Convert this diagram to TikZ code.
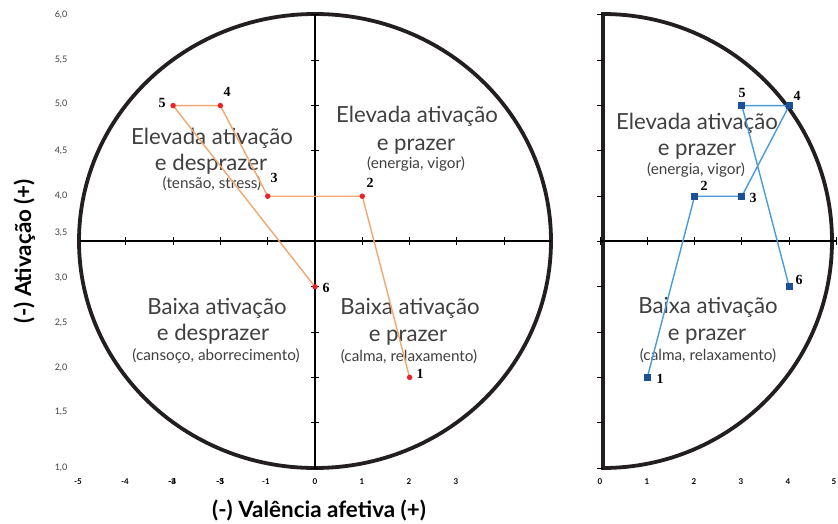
\documentclass[tikz,border=0pt]{standalone}
\usepackage{fontspec}
\setmainfont{Lato}
\newfontfamily\ptfont{Liberation Serif}
\definecolor{txtgray}{HTML}{404040}
\definecolor{frame}{HTML}{231F20}
\definecolor{oline}{HTML}{F4A670}
\definecolor{rdot}{HTML}{E8262A}
\definecolor{bline}{HTML}{4A9BD9}
\definecolor{bsq}{HTML}{1F4E99}
\begin{document}
\begin{tikzpicture}[x=1pt,y=-1pt,
  quad/.style={anchor=base, text=txtgray, font=\fontsize{22.2}{22}\selectfont, inner sep=0pt},
  quadsub/.style={anchor=base, text=txtgray, font=\fontsize{15.3}{15}\selectfont, inner sep=0pt},
  ylab/.style={text=txtgray, font=\fontsize{9}{9}\selectfont, inner sep=0pt},
  xlab/.style={text=black, font=\bfseries\fontsize{8}{8}\selectfont, inner sep=0pt},
  plab/.style={text=black, font=\ptfont\bfseries\fontsize{14}{14}\selectfont, inner sep=0pt},
  axtitle/.style={text=black, font=\bfseries\fontsize{22.4}{22}\selectfont, inner sep=0pt, anchor=base},
  frameline/.style={draw=frame, line width=3.8pt},
  axisline/.style={draw=black, line width=1.2pt},
  tickline/.style={draw=black, line width=1pt},
  orangepath/.style={draw=oline, line width=1.4pt},
  bluepath/.style={draw=bline, line width=1.4pt},
  reddot/.style={circle, fill=rdot, inner sep=0pt, minimum size=5.5pt},
  bluesq/.style={rectangle, fill=bsq, inner sep=0pt, minimum size=7pt}]
\useasboundingbox (0,0) rectangle (838,524);
\fill[white] (0,0) rectangle (838,524);

% ---------- left panel ----------
\draw[frameline] (315,241) ellipse [x radius=236, y radius=227];
\draw[axisline] (80,241) -- (551,241);
\draw[axisline] (315,14) -- (315,468);
\foreach \k in {0,...,10} \draw[tickline] (311,{468-45.3*\k}) -- (319,{468-45.3*\k});
\foreach \v in {-4,-3,-2,-1,1,2,3,4} \draw[tickline] ({315+47.3*\v},237) -- ({315+47.3*\v},245);

% y labels
\node[ylab] (y60) at (61,15) {6,0};
\node[ylab] (y55) at (61,60) {5,5};
\node[ylab] (y50) at (61,104) {5,0};
\node[ylab] (y45) at (61,151) {4,5};
\node[ylab] (y40) at (61,196) {4,0};
\node[ylab] (y35) at (61,233) {3,5};
\node[ylab] (y30) at (61,278) {3,0};
\node[ylab] (y25) at (61,323) {2,5};
\node[ylab] (y20) at (61,368) {2,0};
\node[ylab] (y15) at (61,412) {1,5};
\node[ylab] (y10) at (61,468) {1,0};

% x labels left
\node[xlab] (xm5) at (78,482) {-5};
\node[xlab] (xm4) at (125,482) {-4};
\node[xlab] (xm3a) at (172,482) {-3};
\node[xlab] (xm3b) at (172.5,482) {-4};
\node[xlab] (xm2a) at (220,482) {-3};
\node[xlab] (xm2b) at (220.5,482) {-5};
\node[xlab] (xm1) at (266,482) {-1};
\node[xlab] (x0) at (315,482) {0};
\node[xlab] (x1) at (362,482) {1};
\node[xlab] (x2) at (409,482) {2};
\node[xlab] (x3) at (456,482) {3};

% quadrant texts left
\node[quad] (tl1) at (212,145) {Elevada ativação};
\node[quad] (tl2) at (211,171) {e desprazer};
\node[quadsub] (tl3) at (212,188) {(tensão, stress)};
\node[quad] (tr1) at (417,123) {Elevada ativação};
\node[quad] (tr2) at (416,151) {e prazer};
\node[quadsub] (tr3) at (416,168) {(energia, vigor)};
\node[quad] (bl1) at (217,314) {Baixa ativação};
\node[quad] (bl2) at (213,340) {e desprazer};
\node[quadsub] (bl3) at (216,360) {(cansoço, aborrecimento)};
\node[quad] (br1) at (410,314) {Baixa ativação};
\node[quad] (br2) at (408,341) {e prazer};
\node[quadsub] (br3) at (409,361) {(calma, relaxamento)};

% left data
\coordinate (L1) at (409.6,377.4);
\coordinate (L2) at (362.3,196.2);
\coordinate (L3) at (267.7,196.2);
\coordinate (L4) at (220.4,105.6);
\coordinate (L5) at (173.1,105.6);
\coordinate (L6) at (315,286.8);
\draw[orangepath] (L1) -- (L2) -- (L3) -- (L4) -- (L5) -- (L6);
\foreach \p in {1,...,6} \node[reddot] (dL\p) at (L\p) {};
\node[plab] (nL1) at (420,374) {1};
\node[plab] (nL2) at (370,183) {2};
\node[plab] (nL3) at (274,178) {3};
\node[plab] (nL4) at (227,92) {4};
\node[plab] (nL5) at (162,103) {5};
\node[plab] (nL6) at (326,288) {6};

% axis titles
\node[axtitle] (xt) at (319,517) {(-) Valência afetiva (+)};
\node[axtitle, rotate=90] (yt) at (31,251) {(-) Ativação (+)};

% ---------- right panel ----------
\draw[frameline] (603,14) arc[start angle=-90, end angle=90, x radius=229, y radius=227] -- cycle;
\draw[axisline] (600,241) -- (837,241);
\foreach \k in {0,...,10} \draw[tickline] (597,{468-45.3*\k}) -- (603,{468-45.3*\k});
\foreach \v in {0,1,2,3,4,5} \draw[tickline] ({600+47.3*\v},237) -- ({600+47.3*\v},245);

\node[xlab] (rx0) at (600,482) {0};
\node[xlab] (rx1) at (647,482) {1};
\node[xlab] (rx2) at (694,482) {2};
\node[xlab] (rx3) at (741,482) {3};
\node[xlab] (rx4) at (788,482) {4};
\node[xlab] (rx5) at (834,482) {5};

\node[quad] (rt1) at (697,130) {Elevada ativação};
\node[quad] (rt2) at (697,156) {e prazer};
\node[quadsub] (rt3) at (696,175) {(energia, vigor)};
\node[quad] (rb1) at (708,313) {Baixa ativação};
\node[quad] (rb2) at (707,340) {e prazer};
\node[quadsub] (rb3) at (708,360) {(calma, relaxamento)};

\coordinate (R1) at (647.3,377.4);
\coordinate (R2) at (694.6,196.2);
\coordinate (R3) at (741.9,196.2);
\coordinate (R4) at (789.2,105.6);
\coordinate (R5) at (741.9,105.6);
\coordinate (R6) at (789.2,286.8);
\draw[bluepath] (R1) -- (R2) -- (R3) -- (R4) -- (R5) -- (R6);
\foreach \p in {1,...,6} \node[bluesq] (dR\p) at (R\p) {};
\node[plab] (nR1) at (660,379) {1};
\node[plab] (nR2) at (704,186) {2};
\node[plab] (nR3) at (753,198) {3};
\node[plab] (nR4) at (797,96) {4};
\node[plab] (nR5) at (742,93) {5};
\node[plab] (nR6) at (799,280) {6};
\end{tikzpicture}
\end{document}
